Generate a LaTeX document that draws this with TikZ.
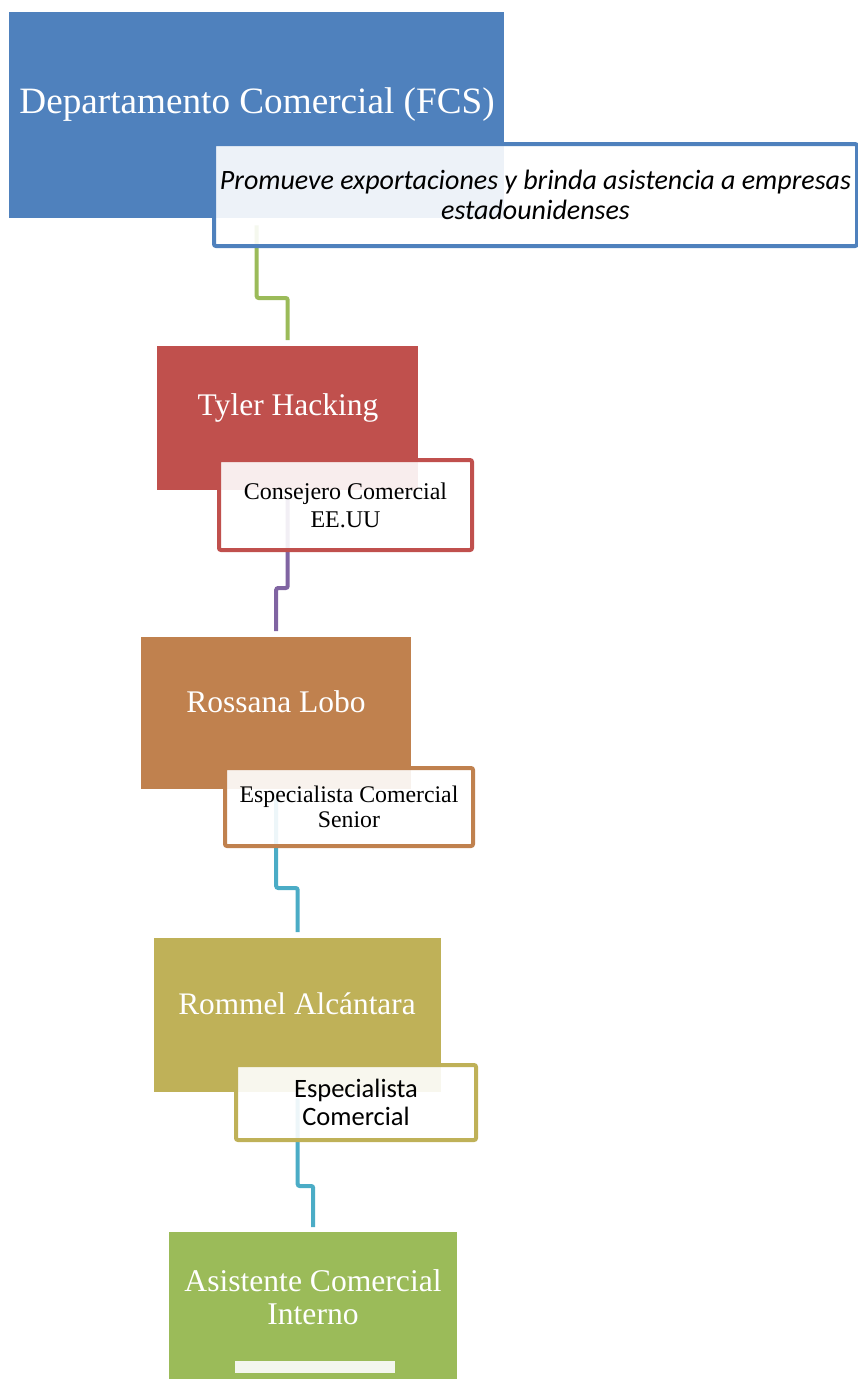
\documentclass[tikz,border=0pt]{standalone}
\usepackage{fontspec}
\setmainfont{Liberation Serif}
\newfontfamily\calib{Carlito}
\usetikzlibrary{calc}
\definecolor{cblue}{HTML}{4F81BD}
\definecolor{cred}{HTML}{C0504D}
\definecolor{corange}{HTML}{C0814E}
\definecolor{colive}{HTML}{BFB158}
\definecolor{cgreen}{HTML}{9BBB59}
\definecolor{cpurple}{HTML}{8064A2}
\definecolor{cteal}{HTML}{4BACC6}
\definecolor{cbar}{HTML}{F3F6EE}
\tikzset{
  mainbox/.style={fill=#1, draw=none, inner sep=0pt, anchor=north west},
  maintext/.style={text=white, align=center, inner sep=0pt},
  subbox/.style={draw=#1, line width=4pt, rounded corners=2pt, fill=white, fill opacity=0.9, text opacity=1, draw opacity=1, text=black, align=center, inner sep=0pt, anchor=north west},
  conn/.style={draw=#1, line width=4pt, rounded corners=2pt},
}
\begin{document}
\begin{tikzpicture}[x=1pt,y=-1pt]
\useasboundingbox (0,0) rectangle (858,1379);
% main boxes
\node[mainbox=cblue, minimum width=495pt, minimum height=206pt] (b1) at (9,12) {};
\node[maintext, font=\fontsize{37.2}{40}\selectfont] (t1) at (257,105) {Departamento Comercial (FCS)};
\node[mainbox=cred, minimum width=261pt, minimum height=144pt] (b2) at (157,346) {};
\node[maintext, font=\fontsize{31.5}{33}\selectfont] (t2) at (288,408) {Tyler Hacking};
\node[mainbox=corange, minimum width=270pt, minimum height=152pt] (b3) at (141,637) {};
\node[maintext, font=\fontsize{31.5}{32}\selectfont] (t3) at (276,702) {Rossana Lobo};
\node[mainbox=colive, minimum width=287pt, minimum height=154pt] (b4) at (154,938) {};
\node[maintext, font=\fontsize{31.3}{32}\selectfont] (t4) at (297,1004) {Rommel Alcántara};
\node[mainbox=cgreen, minimum width=288pt, minimum height=160pt] (b5) at (169,1232) {};
\node[maintext, font=\fontsize{31.6}{33}\selectfont] (t5) at (313,1297) {Asistente Comercial\\Interno};
\node[fill=cbar, draw=none, inner sep=0pt, anchor=north west, minimum width=160pt, minimum height=12pt] (bar) at (235,1361) {};
% connectors
\coordinate (a1) at ($(b1.south)+(0,7)$);
\coordinate (e1) at ($(b2.north)+(0,-6)$);
\draw[conn=cgreen] (a1) -- (a1 |- 0,298) -- (e1 |- 0,298) -- (e1);
\coordinate (a2) at ($(b2.south)+(0,8)$);
\coordinate (e2) at ($(b3.north)+(0,-6)$);
\draw[conn=cpurple] (a2) -- (a2 |- 0,588) -- (e2 |- 0,588) -- (e2);
\coordinate (a3) at ($(b3.south)+(0,9)$);
\coordinate (e3) at ($(b4.north)+(0,-6)$);
\draw[conn=cteal] (a3) -- (a3 |- 0,888) -- (e3 |- 0,888) -- (e3);
\coordinate (a4) at ($(b4.south)+(0,6)$);
\coordinate (e4) at ($(b5.north)+(0,-5)$);
\draw[conn=cteal] (a4) -- (a4 |- 0,1186) -- (e4 |- 0,1186) -- (e4);
% sub boxes
\node[subbox=cblue, minimum width=643pt, minimum height=102pt, font=\calib\itshape\fontsize{28}{30}\selectfont] (s1) at (212,142) {Promueve exportaciones y brinda asistencia a empresas\\estadounidenses};
\node[subbox=cred, minimum width=253pt, minimum height=90pt, font=\fontsize{24}{28}\selectfont] (s2) at (217,458) {Consejero Comercial\\EE.UU};
\node[subbox=corange, minimum width=248pt, minimum height=78pt, font=\fontsize{23.8}{25}\selectfont] (s3) at (223,766) {Especialista Comercial\\Senior};
\node[subbox=colive, minimum width=240pt, minimum height=75pt, font=\calib\fontsize{26.5}{28}\selectfont] (s4) at (234,1063) {Especialista\\Comercial};
\end{tikzpicture}
\end{document}
